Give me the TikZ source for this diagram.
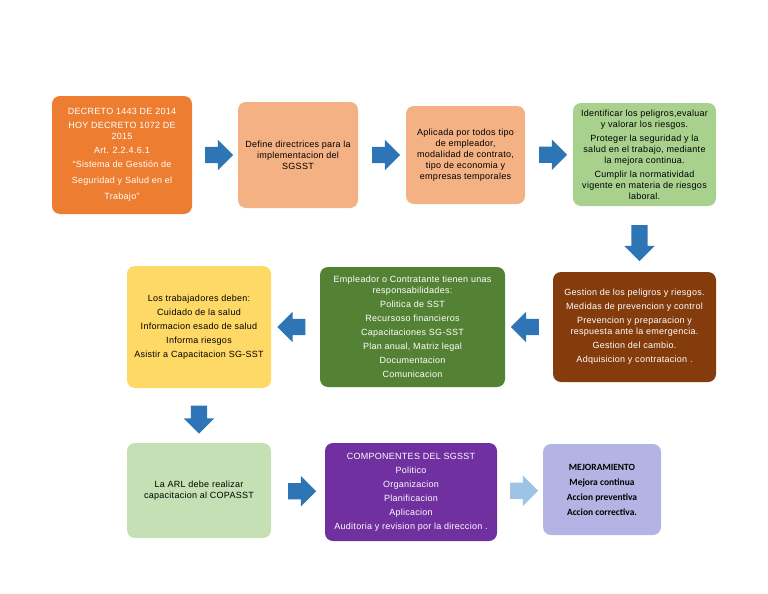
\documentclass[tikz,border=0pt]{standalone}
\usepackage{fontspec}
\setmainfont{Liberation Sans}[LetterSpace=3]
\newfontfamily\mejorafont{Carlito}
\usepackage{tikz}
\usetikzlibrary{shapes.arrows,calc}

\definecolor{naranja}{HTML}{ED7D31}
\definecolor{durazno}{HTML}{F4B183}
\definecolor{verdeclaro}{HTML}{A9D18E}
\definecolor{cafe}{HTML}{843C0C}
\definecolor{verdeoscuro}{HTML}{548235}
\definecolor{amarillo}{HTML}{FFD966}
\definecolor{verdepalido}{HTML}{C5E0B4}
\definecolor{morado}{HTML}{7030A0}
\definecolor{lavanda}{HTML}{B4B4E4}
\definecolor{azul}{HTML}{2E75B6}
\definecolor{azulclaro}{HTML}{9DC3E6}

\tikzset{
  caja/.style={rounded corners=8pt, align=center, inner sep=3pt,
    font=\fontsize{9}{11}\selectfont},
  flecha/.style={single arrow, fill=azul, draw=none, inner sep=0pt,
    inner ysep=8pt, single arrow head extend=7pt, single arrow head indent=0pt,
    minimum height=28pt, anchor=center}
}

\begin{document}
\begin{tikzpicture}[x=1pt,y=-1pt]
  \useasboundingbox (0,0) rectangle (768,594);
  % Erste Reihe
  \node[caja, fill=naranja, text=white, minimum width=140, minimum height=118]
    (decreto) at (122,155) {DECRETO 1443 DE 2014\\[3pt] HOY DECRETO 1072 DE\\ 2015\\[3pt]
    Art. 2.2.4.6.1\\[3pt] ``Sistema de Gestión de\\[5pt] Seguridad y Salud en el\\[5pt] Trabajo''};
  \node[caja, fill=durazno, minimum width=120, minimum height=106]
    (define) at (298,155) {Define directrices para la\\ implementacion del\\ SGSST};
  \node[caja, fill=durazno, minimum width=119, minimum height=98]
    (aplicada) at (465.5,155) {Aplicada por todos tipo\\ de empleador,\\ modalidad de contrato,\\
    tipo de economia y\\ empresas temporales};
  \node[caja, fill=verdeclaro, minimum width=143, minimum height=103]
    (identificar) at (644.5,154.5) {Identificar los peligros,evaluar\\ y valorar los riesgos.\\[3pt]
    Proteger la seguridad y la\\ salud en el trabajo, mediante\\ la mejora continua.\\[3pt]
    Cumplir la normatividad\\ vigente en materia de riesgos\\ laboral.};
  % Zweite Reihe
  \node[caja, fill=cafe, text=white, minimum width=163, minimum height=110]
    (gestion) at (634.5,327) {Gestion de los peligros y riesgos.\\[3pt]
    Medidas de prevencion y control\\[3pt]
    Prevencion y preparacion y\\ respuesta ante la emergencia.\\[3pt]
    Gestion del cambio.\\[3pt] Adquisicion y contratacion .};
  \node[caja, fill=verdeoscuro, text=white, minimum width=185, minimum height=120]
    (empleador) at (412.5,327) {Empleador o Contratante tienen unas\\ responsabilidades:\\[3pt]
    Politica de SST\\[3pt] Recursoso financieros\\[3pt] Capacitaciones SG-SST\\[3pt]
    Plan anual, Matriz legal\\[3pt] Documentacion\\[3pt] Comunicacion};
  \node[caja, fill=amarillo, minimum width=144, minimum height=122]
    (trabajadores) at (199,327) {Los trabajadores deben:\\[3pt] Cuidado de la salud\\[3pt]
    Informacion esado de salud\\[3pt] Informa riesgos\\[3pt] Asistir a Capacitacion SG-SST};
  % Dritte Reihe
  \node[caja, fill=verdepalido, minimum width=144, minimum height=95]
    (arl) at (199,490.5) {La ARL debe realizar\\ capacitacion al COPASST};
  \node[caja, fill=morado, text=white, minimum width=172, minimum height=98]
    (componentes) at (411,492) {COMPONENTES DEL SGSST\\[3pt] Politico\\[3pt] Organizacion\\[3pt]
    Planificacion\\[3pt] Aplicacion\\[3pt] Auditoria y revision por la direccion .};
  \node[caja, fill=lavanda, minimum width=118, minimum height=91,
    font=\mejorafont\bfseries\fontsize{9.5}{11}\selectfont]
    (mejora) at (602,489.5) {MEJORAMIENTO\\[4pt] Mejora continua\\[4pt] Accion preventiva\\[4pt] Accion correctiva.};
  % Pfeile
  \node[flecha] (f1) at ($(decreto.east)!.5!(define.west)$) {};
  \node[flecha] (f2) at ($(define.east)!.5!(aplicada.west)$) {};
  \node[flecha] (f3) at ($(aplicada.east)!.5!(identificar.west)$) {};
  \node[flecha, rotate=-90, minimum height=36pt] (f4) at ($(identificar.south)!.5!(gestion.north)$) {};
  \node[flecha, rotate=180] (f5) at ($(gestion.west)!.5!(empleador.east)$) {};
  \node[flecha, rotate=180] (f6) at ($(empleador.west)!.5!(trabajadores.east)$) {};
  \node[flecha, rotate=-90] (f7) at ($(trabajadores.south)!.5!(arl.north)$) {};
  \node[flecha] (f8) at ($(arl.east)!.5!(componentes.west)$) {};
  \node[flecha, fill=azulclaro] (f9) at ($(componentes.east)!.5!(mejora.west)$) {};
\end{tikzpicture}
\end{document}
